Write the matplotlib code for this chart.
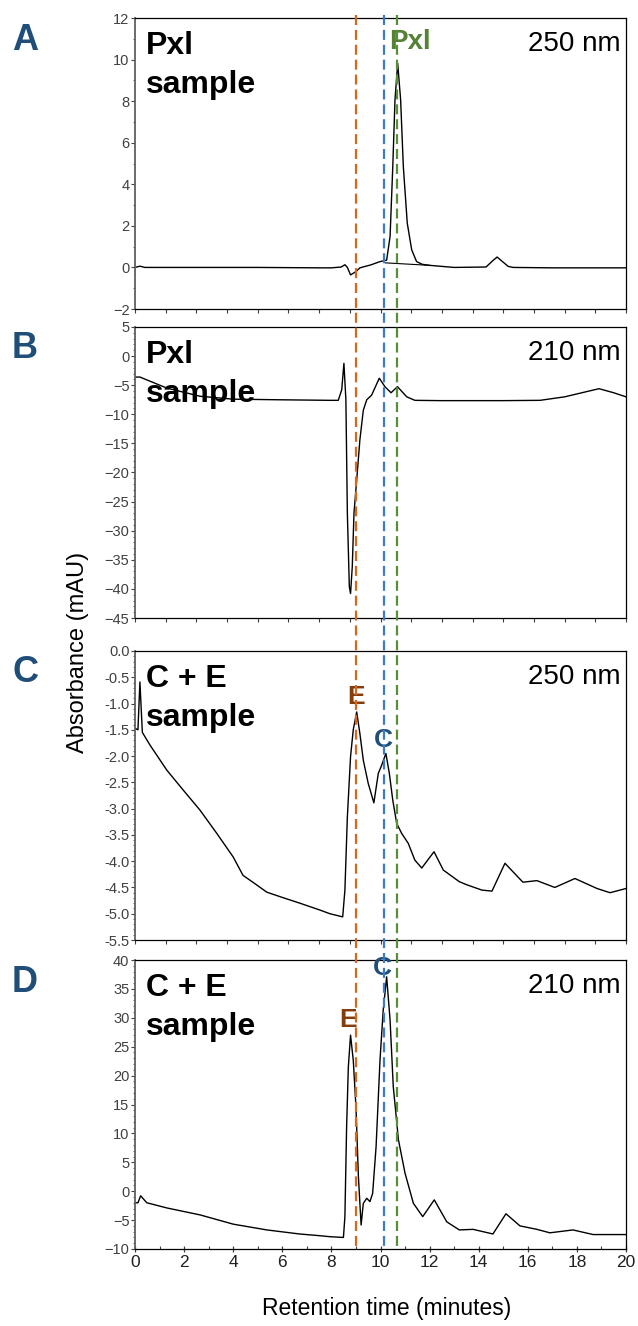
import numpy as np
import matplotlib
matplotlib.use("Agg")
import matplotlib.pyplot as plt
from matplotlib.lines import Line2D
from matplotlib.ticker import MultipleLocator, FormatStrFormatter
import matplotlib.transforms as mtransforms

plt.rcParams['font.family'] = ['Liberation Sans', 'DejaVu Sans']

# ---- data (retention time in minutes, absorbance in mAU)
a_x = [0, 0.2, 0.4, 2, 5, 7.5, 8.0, 8.4, 8.55, 8.65, 8.78, 9.0, 9.16, 9.6, 9.98,
       10.25, 10.39, 10.5, 10.59, 10.7, 10.82, 10.93, 11.09, 11.27, 11.47, 11.7,
       12.0, 13, 14.3, 14.55, 14.75, 14.95, 15.2, 15.4, 17, 20]
a_y = [0.0, 0.06, 0.0, 0.0, 0.0, -0.02, -0.02, 0.02, 0.13, 0.0, -0.36, -0.2, -0.02,
       0.12, 0.28, 0.35, 1.49, 4.85, 8.06, 9.82, 8.06, 4.85, 2.13, 0.85, 0.28, 0.15,
       0.1, 0.0, 0.02, 0.3, 0.5, 0.3, 0.05, 0.0, -0.02, -0.02]
a_base_x = [10.2, 12.0]
a_base_y = [0.22, 0.1]

b_x = [0, 0.2, 1.3, 2.65, 4.0, 5.8, 7.94, 8.28, 8.42, 8.51, 8.59, 8.65, 8.73, 8.78,
       8.85, 8.92, 9.03, 9.16, 9.3, 9.44, 9.64, 9.95, 10.18, 10.43, 10.69, 11.07,
       11.4, 12.42, 15, 16.5, 17.5, 18.9, 19.5, 20]
b_y = [-3.6, -3.6, -5.5, -6.9, -7.4, -7.5, -7.6, -7.6, -5.8, -1.24, -7.5, -27.0,
       -39.6, -40.8, -36.2, -27.0, -21.3, -14.4, -9.3, -7.5, -6.7, -3.8, -5.25, -6.3,
       -5.25, -7.0, -7.6, -7.65, -7.65, -7.6, -7.0, -5.6, -6.3, -7.0]

c_x = [0, 0.12, 0.2, 0.3, 0.61, 1.3, 1.97, 2.65, 3.33, 4.0, 4.4, 4.8, 5.37, 6.0,
       6.72, 7.53, 7.94, 8.46, 8.55, 8.65, 8.78, 8.89, 9.03, 9.16, 9.3, 9.5, 9.73,
       9.91, 10.05, 10.22, 10.36, 10.5, 10.66, 10.86, 11.13, 11.4, 11.68, 12.18,
       12.56, 13.21, 13.52, 14.13, 14.54, 15.07, 15.8, 16.37, 17.1, 17.92, 18.82,
       19.35, 20]
c_y = [-1.47, -1.5, -0.59, -1.55, -1.79, -2.27, -2.65, -3.03, -3.47, -3.92, -4.27,
       -4.4, -4.59, -4.69, -4.8, -4.93, -5.0, -5.06, -4.55, -3.16, -2.01, -1.5,
       -1.16, -1.57, -2.08, -2.52, -2.89, -2.33, -2.17, -1.95, -2.33, -2.84, -3.28,
       -3.47, -3.66, -3.98, -4.13, -3.82, -4.17, -4.39, -4.45, -4.55, -4.57, -4.04,
       -4.4, -4.37, -4.5, -4.33, -4.52, -4.6, -4.52]

d_x = [0, 0.12, 0.23, 0.48, 1.3, 2.65, 4.0, 5.37, 6.7, 7.53, 7.94, 8.49, 8.55, 8.62,
       8.69, 8.78, 8.89, 9.0, 9.1, 9.21, 9.3, 9.44, 9.57, 9.68, 9.82, 9.98, 10.11,
       10.25, 10.39, 10.52, 10.73, 11.0, 11.34, 11.72, 12.19, 12.7, 13.21, 13.77,
       14.58, 15.11, 15.68, 16.37, 16.9, 17.84, 18.66, 20]
d_y = [-2.0, -2.0, -0.8, -2.0, -2.9, -4.1, -5.7, -6.7, -7.4, -7.7, -7.87, -8.0, -4.4,
       11.2, 21.5, 27.0, 22.7, 14.6, 2.5, -5.85, -2.1, -1.23, -1.8, -0.37, 7.7, 22.7,
       31.3, 37.1, 29.6, 18.1, 8.9, 3.1, -2.1, -4.4, -1.5, -5.3, -6.7, -6.6, -7.4,
       -3.9, -6.0, -6.6, -7.2, -6.7, -7.5, -7.5]

panel_letters = ['A', 'B', 'C', 'D']
sample_names = ['Pxl\nsample', 'Pxl\nsample', 'C + E\nsample', 'C + E\nsample']
wavelengths = ['250 nm', '210 nm', '250 nm', '210 nm']
y_limits = [(-2, 12), (-45, 5), (-5.5, 0.0), (-10, 40)]
y_major = [2, 5, 0.5, 5]
y_minor = [1, 1, 0.1, 1]
marker_times = [9.0, 10.14, 10.67]          # E, C, Pxl retention times
marker_colors = ['#D2691E', '#3B7DC4', '#5A8C3A']

# ---- layout
fig = plt.figure(figsize=(6.38, 13.26), dpi=100)
W, H = 638, 1326
left, right = 135, 626
boxes = [(18, 309), (327, 618), (651, 940), (960, 1249)]
axes = []
for top, bot in boxes:
    ax = fig.add_axes([left / W, 1 - bot / H, (right - left) / W, (bot - top) / H])
    axes.append(ax)

series = [(a_x, a_y), (b_x, b_y), (c_x, c_y), (d_x, d_y)]
grey = '#404040'
for i, ax in enumerate(axes):
    x, y = series[i]
    ax.plot(x, y, color='black', lw=1.0)
    ax.set_xlim(0, 20)
    ax.set_ylim(*y_limits[i])
    ax.yaxis.set_major_locator(MultipleLocator(y_major[i]))
    ax.yaxis.set_minor_locator(MultipleLocator(y_minor[i]))
    if i == 2:
        ax.yaxis.set_major_formatter(FormatStrFormatter('%.1f'))
    ax.tick_params(axis='y', which='major', direction='out', length=3, width=0.8,
                   colors=grey, labelsize=10.5, pad=1)
    ax.tick_params(axis='y', which='minor', direction='out', length=1.5, width=0.6,
                   color=grey)
    for s in ['top', 'right', 'bottom']:
        ax.spines[s].set_color('black')
        ax.spines[s].set_linewidth(0.9)
    ax.spines['left'].set_color('#606060')
    ax.spines['left'].set_linewidth(1.3)
    if i < 3:
        ax.set_xticks(np.linspace(0, 20, 17))
        ax.tick_params(axis='x', which='major', direction='out', length=3, width=0.8,
                       color=grey, labelbottom=False)
    else:
        ax.xaxis.set_major_locator(MultipleLocator(2))
        ax.xaxis.set_minor_locator(MultipleLocator(1))
        ax.tick_params(axis='x', which='major', direction='inout', length=5, width=0.9,
                       color=grey, labelsize=12.5, labelcolor='#202020', pad=2)
        ax.tick_params(axis='x', which='minor', direction='in', length=2.5, width=0.8,
                       color=grey)

    ax.text(0.022, 0.955, sample_names[i], transform=ax.transAxes, ha='left', va='top',
            fontsize=23, fontweight='bold', color='black', linespacing=1.4)
    ax.text(0.99, 0.955, wavelengths[i], transform=ax.transAxes, ha='right', va='top',
            fontsize=20, color='black')
    top = boxes[i][0]
    fig.text(25 / W, 1 - (top + 22) / H, panel_letters[i], ha='center', va='center',
             fontsize=26, fontweight='bold', color='#1F4E79')

# peak labels
axes[0].text(11.2, 10.85, 'Pxl', ha='center', va='center', fontsize=20,
             fontweight='bold', color='#548235')
axes[2].text(9.0, -0.88, 'E', ha='center', va='center', fontsize=19,
             fontweight='bold', color='#843C0C')
axes[2].text(10.1, -1.7, 'C', ha='center', va='center', fontsize=19,
             fontweight='bold', color='#1F4E79')
axes[3].text(8.68, 29.6, 'E', ha='center', va='center', fontsize=19,
             fontweight='bold', color='#843C0C')
axes[3].text(10.06, 38.6, 'C', ha='center', va='center', fontsize=19,
             fontweight='bold', color='#1F4E79')

# integration baseline under the Pxl peak
axes[0].plot(a_base_x, a_base_y, color='black', lw=0.8)

# dashed retention-time markers spanning all panels
trans = mtransforms.blended_transform_factory(axes[3].transData, fig.transFigure)
for t, col in zip(marker_times, marker_colors):
    fig.add_artist(Line2D([t, t], [1 - 15 / H, 1 - 1250 / H], transform=trans,
                          color=col, lw=1.6, dashes=(4.5, 2.2)))

fig.text(78 / W, 1 - 652 / H, 'Absorbance (mAU)', rotation=90, ha='center',
         va='center', fontsize=17, color='black')
fig.text(387 / W, 1 - 1309 / H, 'Retention time (minutes)', ha='center',
         va='center', fontsize=16.5, color='black')

fig.savefig('out.png', dpi=100)
